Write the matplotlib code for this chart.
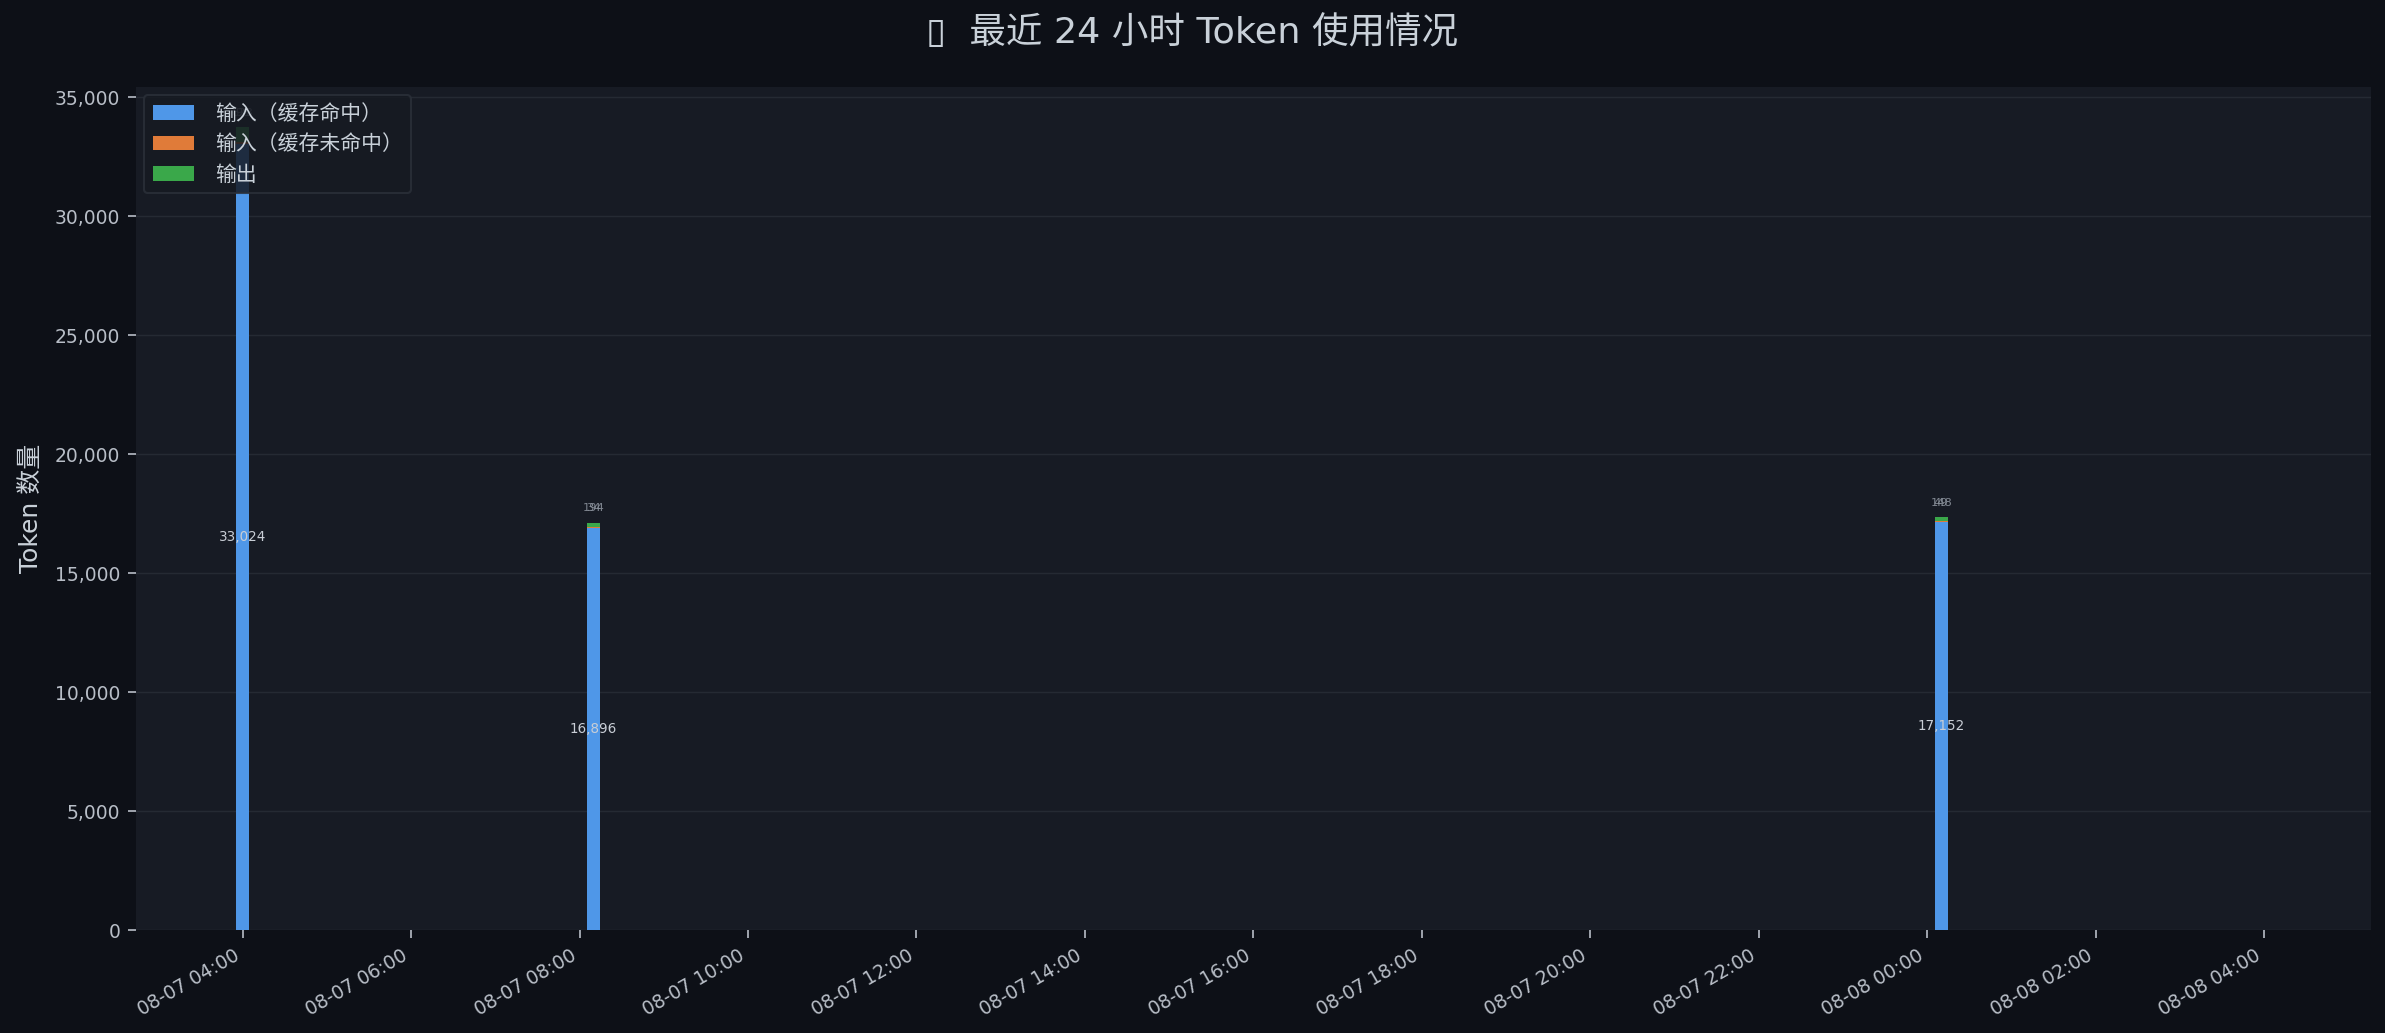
import datetime
import matplotlib
matplotlib.use("Agg")
import matplotlib.pyplot as plt
import matplotlib.dates as mdates
from matplotlib.ticker import FuncFormatter

plt.rcParams['font.family'] = ['DejaVu Sans', 'Noto Sans CJK SC']

# data
times = ["2025-08-07 04:00", "2025-08-07 08:10", "2025-08-08 00:10"]
cache_hit = [33024, 16896, 17152]
cache_miss = [98, 34, 49]
output = [623, 194, 148]

BG = "#0d1017"
AX_BG = "#171b24"
TXT = "#c9d1d9"
C_HIT = "#4f97e8"
C_MISS = "#e07b39"
C_OUT = "#3aa84a"

x = [datetime.datetime.strptime(t, "%Y-%m-%d %H:%M") for t in times]
width = 0.0064  # days

fig = plt.figure(figsize=(15.9, 6.887), dpi=150, facecolor=BG)
ax = fig.add_axes([0.057, 0.0997, 0.937, 0.816])
ax.set_facecolor(AX_BG)

bottom2 = cache_hit
bottom3 = [a + b for a, b in zip(cache_hit, cache_miss)]
totals = [a + b for a, b in zip(bottom3, output)]

ax.bar(x, cache_hit, width=width, color=C_HIT, label="输入（缓存命中）", zorder=3)
ax.bar(x, cache_miss, width=width, bottom=bottom2, color=C_MISS, label="输入（缓存未命中）", zorder=3)
ax.bar(x, output, width=width, bottom=bottom3, color=C_OUT, label="输出", zorder=3)

ymax = max(totals) * 1.05
ax.set_ylim(0, ymax)
ax.set_xlim(datetime.datetime(2025, 8, 7, 2, 44), datetime.datetime(2025, 8, 8, 5, 16))

# value labels
for xi, h, m, o, tot in zip(x, cache_hit, cache_miss, output, totals):
    ax.text(xi, h / 2, f"{h:,}", ha="center", va="center", fontsize=6.5,
            color="#c9ced6", zorder=4)
    for v in (m, o):
        ax.text(xi, tot + ymax * 0.017, f"{v:,}", ha="center", va="center",
                fontsize=5.5, color="#8b929c", alpha=0.9, zorder=4)

ax.xaxis.set_major_locator(mdates.HourLocator(interval=2))
ax.xaxis.set_major_formatter(mdates.DateFormatter("%m-%d %H:%M"))
ax.yaxis.set_major_formatter(FuncFormatter(lambda v, p: f"{int(v):,}"))
plt.setp(ax.get_xticklabels(), rotation=30, ha="right")

ax.tick_params(colors="#b8bec7", labelsize=9, length=4)
for s in ax.spines.values():
    s.set_visible(False)
ax.grid(axis="y", color="#252a33", linewidth=0.7, zorder=0)
ax.set_axisbelow(True)

ax.set_ylabel("Token 数量", color=TXT, fontsize=12, labelpad=6)
fig.suptitle("▯  最近 24 小时 Token 使用情况", color=TXT, fontsize=17.5, y=0.985)

leg = ax.legend(loc="upper left", fontsize=10, facecolor="#161a22",
                edgecolor="#2b3039", framealpha=0.85, borderaxespad=0.4,
                labelspacing=0.5, handletextpad=1.0)
for t in leg.get_texts():
    t.set_color(TXT)
leg.set_zorder(5)

fig.savefig("out.png", dpi=150, facecolor=BG)
